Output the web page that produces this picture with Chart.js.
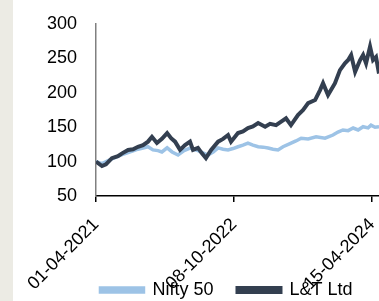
<!DOCTYPE html>
<html>
<head>
<meta charset="utf-8">
<script src="https://cdn.jsdelivr.net/npm/chart.js@4.4.0/dist/chart.umd.min.js"></script>
<style>
  body { margin: 0; background: linear-gradient(to right, #ecebe4 0, #ecebe4 13px, #fff 13px); }
  #wrap { width: 379px; height: 301px; }
</style>
</head>
<body>
<div id="wrap"><canvas id="perfChart" width="379" height="301"></canvas></div>
<script>
// days since 01-04-2021, both series rebased to 100
const tickDays = [0, 555, 1110];
const tickLabels = ["01-04-2021", "08-10-2022", "15-04-2024"];

const niftyDays = [0, 24, 64, 105, 129, 169, 209, 229, 249, 265, 286, 306, 330, 354, 378, 410, 450, 471, 491, 511, 531, 551, 571, 591, 611, 631, 652, 672, 692, 712, 732, 752, 780, 804, 825, 853, 885, 921, 953, 973, 993, 1014, 1034, 1054, 1074, 1094, 1106, 1122, 1138];
const niftyValues = [100, 97, 104, 110, 113, 118, 121.6, 117, 116, 114, 120, 114, 109.6, 116, 119.7, 116, 109.6, 114, 120, 118, 117, 119, 121.6, 124, 127, 124, 121.6, 121, 119.7, 118, 117, 121.6, 126, 130, 134, 133, 136, 134, 138.6, 143, 146, 145, 148.8, 146, 150.7, 149, 153, 150, 150.7];

const ltDays = [0, 24, 40, 64, 88, 105, 129, 149, 169, 189, 209, 225, 245, 265, 286, 302, 318, 338, 358, 378, 390, 410, 426, 442, 463, 491, 511, 531, 543, 571, 591, 611, 631, 652, 680, 700, 724, 752, 764, 784, 812, 833, 853, 881, 901, 913, 933, 961, 981, 1001, 1014, 1026, 1042, 1062, 1074, 1086, 1102, 1114, 1126, 1138];
const ltValues = [100, 93.6, 96, 105, 108, 112, 117, 118, 121.6, 124, 129, 136, 127, 133, 141.5, 134, 129, 117, 124, 129, 117, 120, 112, 105, 117, 129, 133, 138.6, 129, 141.5, 144, 148.8, 151, 156, 150.7, 155, 153, 160, 163, 153, 167.7, 175, 185, 189.5, 204, 214, 196.8, 214, 233, 243, 247.6, 255, 230.6, 247.6, 255, 243, 267, 247.6, 252, 228];

const toPoints = (days, values) => days.map((d, i) => ({ x: d, y: values[i] }));

const font = { family: "'Liberation Sans', Arial, sans-serif", size: 18 };

// let the tick labels spill outside their (narrow) scale boxes
const unclipLabels = {
  id: "unclipLabels",
  afterLayout(chart) {
    chart.scales.x.bottom = chart.height;
    chart.scales.y.left = 0;
  }
};

new Chart(document.getElementById("perfChart"), {
  type: "line",
  data: {
    datasets: [
      {
        label: "Nifty 50",
        data: toPoints(niftyDays, niftyValues),
        borderColor: "#9dc3e6",
        backgroundColor: "#9dc3e6",
        borderWidth: 3.5,
        pointRadius: 0,
        tension: 0,
        order: 1
      },
      {
        label: "L&T Ltd",
        data: toPoints(ltDays, ltValues),
        borderColor: "#333f50",
        backgroundColor: "#333f50",
        borderWidth: 4,
        pointRadius: 0,
        tension: 0,
        order: 0
      }
    ]
  },
  plugins: [unclipLabels],
  options: {
    responsive: false,
    animation: false,
    devicePixelRatio: 1,
    layout: { padding: { left: 74, top: 24, right: 0, bottom: -8 } },
    plugins: {
      tooltip: { enabled: false },
      legend: {
        position: "bottom",
        labels: {
          color: "#000",
          font: font,
          boxWidth: 43,
          boxHeight: 4,
          padding: 24,
          sort: (a, b) => a.datasetIndex - b.datasetIndex
        }
      }
    },
    scales: {
      x: {
        type: "linear",
        min: 0,
        max: 1138,
        afterBuildTicks: s => { s.ticks = tickDays.map(v => ({ value: v })); },
        afterFit: s => { s.height = 61; s.paddingLeft = 0; s.paddingRight = 0; },
        ticks: {
          color: "#000",
          font: font,
          minRotation: 45,
          maxRotation: 45,
          autoSkip: false,
          padding: 12,
          callback: (v) => tickLabels[tickDays.indexOf(v)]
        },
        grid: { drawOnChartArea: false, drawTicks: true, tickLength: 6, color: "#000", lineWidth: 1.5 },
        border: { color: "#000", width: 1.5 }
      },
      y: {
        min: 50,
        max: 300,
        afterFit: s => { s.width = 22; s.paddingTop = 0; s.paddingBottom = 0; },
        ticks: { stepSize: 50, color: "#000", font: font, padding: 11 },
        grid: { display: false },
        border: { color: "#808080", width: 1.5 }
      }
    }
  }
});
</script>
</body>
</html>
